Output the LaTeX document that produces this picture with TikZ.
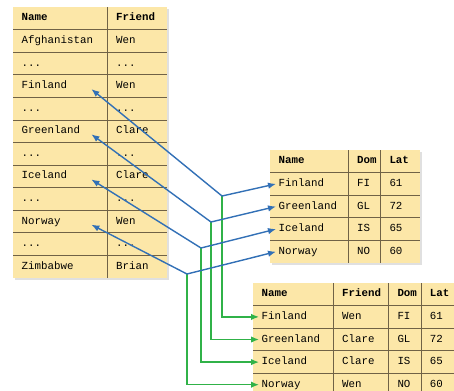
\documentclass[tikz,border=0pt]{standalone}
\usepackage{fontspec}
\newfontfamily\tabfont{Liberation Mono}
\usepackage{tikz}
\usetikzlibrary{arrows.meta, positioning, backgrounds}

\definecolor{cellfill}{RGB}{252,231,168}
\definecolor{ruleline}{RGB}{112,98,70}
\definecolor{linkblue}{RGB}{50,112,182}
\definecolor{linkgreen}{RGB}{48,178,72}

\begin{document}
\begin{tikzpicture}[
    x=1bp, y=-1bp,
    node distance=0pt,
    cell/.style={rectangle, fill=cellfill, inner sep=0pt, text width=#1, minimum height=22.2bp, align=left, text height=7.5bp, text depth=2.5bp, execute at begin node={\hspace*{8.5bp}}, font=\tabfont\fontsize{10.8bp}{12bp}\selectfont},
    head/.style={cell=#1, font=\tabfont\bfseries\fontsize{10.8bp}{12bp}\selectfont},
    rule/.style={draw=ruleline, line width=1bp},
    link/.style={-{Latex[length=8bp, width=6.5bp]}, line width=1.4bp},
]
\useasboundingbox (0,0) rectangle (454,390);

% ===== COUNTRY / FRIEND TABLE =====
\node[head=94bp, anchor=north west] (lname0) at (13,7) {Name};
\node[head=59bp, right=of lname0] (lfriend0) {Friend};
\node[cell=94bp, below=of lname0] (lname1) {Afghanistan};
\node[cell=59bp, right=of lname1] (lfriend1) {Wen};
\node[cell=94bp, below=of lname1] (lname2) {...};
\node[cell=59bp, right=of lname2] (lfriend2) {...};
\node[cell=94bp, below=of lname2] (lname3) {Finland};
\node[cell=59bp, right=of lname3] (lfriend3) {Wen};
\node[cell=94bp, below=of lname3] (lname4) {...};
\node[cell=59bp, right=of lname4] (lfriend4) {...};
\node[cell=94bp, below=of lname4] (lname5) {Greenland};
\node[cell=59bp, right=of lname5] (lfriend5) {Clare};
\node[cell=94bp, below=of lname5] (lname6) {...};
\node[cell=59bp, right=of lname6] (lfriend6) {...};
\node[cell=94bp, below=of lname6] (lname7) {Iceland};
\node[cell=59bp, right=of lname7] (lfriend7) {Clare};
\node[cell=94bp, below=of lname7] (lname8) {...};
\node[cell=59bp, right=of lname8] (lfriend8) {...};
\node[cell=94bp, below=of lname8] (lname9) {Norway};
\node[cell=59bp, right=of lname9] (lfriend9) {Wen};
\node[cell=94bp, below=of lname9] (lname10) {...};
\node[cell=59bp, right=of lname10] (lfriend10) {...};
\node[cell=94bp, below=of lname10] (lname11) {Zimbabwe};
\node[cell=59bp, right=of lname11] (lfriend11) {Brian};

\foreach \k in {0,...,10}
    \draw[rule] (lname\k.south west) -- (lfriend\k.south east);
\draw[rule] (lname0.north east) -- (lname11.south east);

% ===== COUNTRY / DOMAIN / LATITUDE TABLE =====
\node[head=78bp, anchor=north west] (mname0) at (270,150) {Name};
\node[head=32bp, right=of mname0] (mdom0) {Dom};
\node[head=39bp, right=of mdom0] (mlat0) {Lat};
\node[cell=78bp, below=of mname0] (mname1) {Finland};
\node[cell=32bp, right=of mname1] (mdom1) {FI};
\node[cell=39bp, right=of mdom1] (mlat1) {61};
\node[cell=78bp, below=of mname1] (mname2) {Greenland};
\node[cell=32bp, right=of mname2] (mdom2) {GL};
\node[cell=39bp, right=of mdom2] (mlat2) {72};
\node[cell=78bp, below=of mname2] (mname3) {Iceland};
\node[cell=32bp, right=of mname3] (mdom3) {IS};
\node[cell=39bp, right=of mdom3] (mlat3) {65};
\node[cell=78bp, below=of mname3] (mname4) {Norway};
\node[cell=32bp, right=of mname4] (mdom4) {NO};
\node[cell=39bp, right=of mdom4] (mlat4) {60};

\foreach \k in {0,...,3}
    \draw[rule] (mname\k.south west) -- (mlat\k.south east);
\draw[rule] (mname0.north east) -- (mname4.south east);
\draw[rule] (mdom0.north east) -- (mdom4.south east);

% ===== JOINED TABLE =====
\node[head=80bp, anchor=north west] (bname0) at (253,283) {Name};
\node[head=55bp, right=of bname0] (bfriend0) {Friend};
\node[head=32bp, right=of bfriend0] (bdom0) {Dom};
\node[head=36bp, right=of bdom0] (blat0) {Lat};
\node[cell=80bp, below=of bname0] (bname1) {Finland};
\node[cell=55bp, right=of bname1] (bfriend1) {Wen};
\node[cell=32bp, right=of bfriend1] (bdom1) {FI};
\node[cell=36bp, right=of bdom1] (blat1) {61};
\node[cell=80bp, below=of bname1] (bname2) {Greenland};
\node[cell=55bp, right=of bname2] (bfriend2) {Clare};
\node[cell=32bp, right=of bfriend2] (bdom2) {GL};
\node[cell=36bp, right=of bdom2] (blat2) {72};
\node[cell=80bp, below=of bname2] (bname3) {Iceland};
\node[cell=55bp, right=of bname3] (bfriend3) {Clare};
\node[cell=32bp, right=of bfriend3] (bdom3) {IS};
\node[cell=36bp, right=of bdom3] (blat3) {65};
\node[cell=80bp, below=of bname3] (bname4) {Norway};
\node[cell=55bp, right=of bname4] (bfriend4) {Wen};
\node[cell=32bp, right=of bfriend4] (bdom4) {NO};
\node[cell=36bp, right=of bdom4] (blat4) {60};

\foreach \k in {0,...,3}
    \draw[rule] (bname\k.south west) -- (blat\k.south east);
\draw[rule] (bname0.north east) -- (bname4.south east);
\draw[rule] (bfriend0.north east) -- (bfriend4.south east);
\draw[rule] (bdom0.north east) -- (bdom4.south east);

% faint shadows
\begin{scope}[on background layer]
\fill[black!12] ([shift={(2bp,-2bp)}]lname0.north west) rectangle ([shift={(2bp,-2bp)}]lfriend11.south east);
\fill[black!12] ([shift={(2bp,-2bp)}]mname0.north west) rectangle ([shift={(2bp,-2bp)}]mlat4.south east);
\fill[black!12] ([shift={(2bp,-2bp)}]bname0.north west) rectangle ([shift={(2bp,-2bp)}]blat4.south east);
\end{scope}

% ===== JOIN LINKS =====
\coordinate (jfin) at (222,196);
\coordinate (jgreen) at (211,222);
\coordinate (jice) at (201,248);
\coordinate (jnor) at (187,274);

\draw[link, linkgreen] (jfin) |- ([xshift=6bp]bname1.west);
\draw[link, linkgreen] (jgreen) |- ([xshift=6bp]bname2.west);
\draw[link, linkgreen] (jice) |- ([xshift=6bp]bname3.west);
\draw[link, linkgreen] (jnor) |- ([xshift=6bp]bname4.west);

\draw[link, linkblue] (jfin) -- ([xshift=6bp]mname1.west);
\draw[link, linkblue] (jgreen) -- ([xshift=6bp]mname2.west);
\draw[link, linkblue] (jice) -- ([xshift=6bp]mname3.west);
\draw[link, linkblue] (jnor) -- ([xshift=6bp]mname4.west);

\draw[link, linkblue] (jfin) -- ([xshift=-16bp, yshift=-3bp]lname3.east);
\draw[link, linkblue] (jgreen) -- ([xshift=-16bp, yshift=-3bp]lname5.east);
\draw[link, linkblue] (jice) -- ([xshift=-16bp, yshift=-3bp]lname7.east);
\draw[link, linkblue] (jnor) -- ([xshift=-16bp, yshift=-3bp]lname9.east);

\end{tikzpicture}
\end{document}
